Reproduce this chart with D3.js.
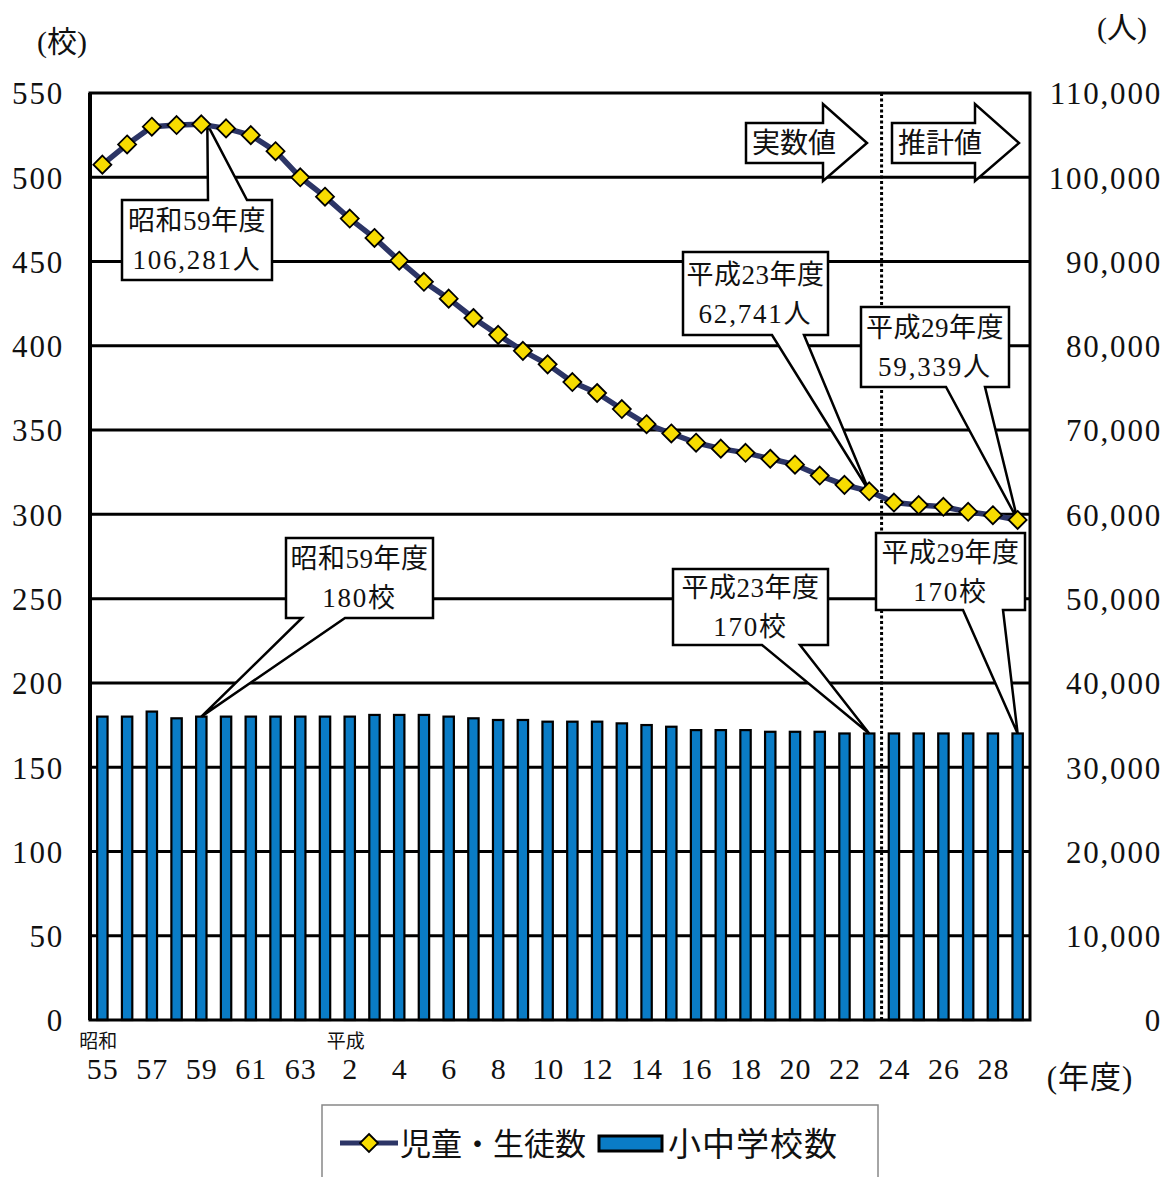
<!DOCTYPE html>
<html><head><meta charset="utf-8">
<script src="https://cdn.jsdelivr.net/npm/d3@7"></script>
<style>
html,body{margin:0;padding:0;background:#fff;}
text{font-family:"Liberation Serif","DejaVu Serif","Noto Sans CJK JP",serif;fill:#111;}
</style></head>
<body><svg id="c" width="1165" height="1177"></svg>
<script>
// ---- data ----
const years = ["昭和55","昭和56","昭和57","昭和58","昭和59","昭和60","昭和61","昭和62","昭和63",
  "平成元","平成2","平成3","平成4","平成5","平成6","平成7","平成8","平成9","平成10","平成11","平成12",
  "平成13","平成14","平成15","平成16","平成17","平成18","平成19","平成20","平成21","平成22","平成23",
  "平成24","平成25","平成26","平成27","平成28","平成29"];
const students = [101500,103900,106000,106200,106281,105800,105000,103100,100000,
  97700,95100,92800,90100,87600,85600,83300,81300,79400,77800,75700,74400,
  72500,70700,69600,68500,67800,67300,66600,65900,64600,63500,62741,
  61400,61100,60900,60300,59900,59339];
const schools = [180,180,183,179,180,180,180,180,180,
  180,180,181,181,181,180,179,178,178,177,177,177,
  176,175,174,172,172,172,171,171,171,170,170,
  170,170,170,170,170,170];
const xTickLabels = ["55","57","59","61","63","2","4","6","8","10","12","14","16","18","20","22","24","26","28"];
const leftTicks = [0,50,100,150,200,250,300,350,400,450,500,550];
const rightTicks = [0,10000,20000,30000,40000,50000,60000,70000,80000,90000,100000,110000];
const eraLabels = [{year:"昭和55", text:"昭和"},{year:"平成2", text:"平成"}];
const seriesNames = ["児童・生徒数","小中学校数"];
const phaseLabels = ["実数値","推計値"];
const boundaryAfter = "平成23";
const callouts = [
  {year:"昭和59", series:"students", lines:["昭和59年度","106,281人"]},
  {year:"平成23", series:"students", lines:["平成23年度","62,741人"]},
  {year:"平成29", series:"students", lines:["平成29年度","59,339人"]},
  {year:"昭和59", series:"schools", lines:["昭和59年度","180校"]},
  {year:"平成23", series:"schools", lines:["平成23年度","170校"]},
  {year:"平成29", series:"schools", lines:["平成29年度","170校"]}
];

// ---- layout ----
const L=90, R=1030, T=93, B=1020;
const svg = d3.select("#c");
const x = d3.scalePoint().domain(years).range([L,R]).padding(0.5);
const yL = d3.scaleLinear().domain([0,550]).range([B,T]);
const yR = d3.scaleLinear().domain([0,110000]).range([B,T]);
const barW = x.step()*0.42;
const BLUE="#0a7cc6", NAVY="#2c3566", YEL="#f7dc00";

// gridlines
svg.append("g").selectAll("line").data(leftTicks.filter(d=>d>0&&d<550)).join("line")
  .attr("x1",L).attr("x2",R).attr("y1",d=>yL(d)).attr("y2",d=>yL(d))
  .attr("stroke","#000").attr("stroke-width",3);

// bars
svg.append("g").selectAll("rect").data(years).join("rect")
  .attr("x",d=>x(d)-barW/2).attr("width",barW)
  .attr("y",(d,i)=>yL(schools[i])).attr("height",(d,i)=>B-yL(schools[i]))
  .attr("fill",BLUE).attr("stroke","#000").attr("stroke-width",2.2);

// frame
svg.append("rect").attr("x",L).attr("y",T).attr("width",R-L).attr("height",B-T)
  .attr("fill","none").attr("stroke","#000").attr("stroke-width",3);
svg.append("line").attr("x1",L).attr("x2",L).attr("y1",T).attr("y2",B).attr("stroke","#000").attr("stroke-width",4);

// boundary dotted line
const ib = years.indexOf(boundaryAfter);
const bx = (x(years[ib])+x(years[ib+1]))/2;
svg.append("line").attr("x1",bx).attr("x2",bx).attr("y1",T).attr("y2",B)
  .attr("stroke","#000").attr("stroke-width",3).attr("stroke-dasharray","3,2.5");

// axes
const axL = svg.append("g").attr("transform",`translate(${L},0)`)
  .call(d3.axisLeft(yL).tickValues(leftTicks).tickSize(0).tickPadding(26));
const axR = svg.append("g").attr("transform",`translate(${R},0)`)
  .call(d3.axisRight(yR).tickValues(rightTicks).tickSize(0).tickFormat(d3.format(",")));
axR.selectAll("text").attr("text-anchor","end").attr("x",132);
const tickYears = years.filter((d,i)=>i%2===0);
const axB = svg.append("g").attr("transform",`translate(0,${B})`)
  .call(d3.axisBottom(x).tickValues(tickYears).tickSize(0).tickPadding(38)
    .tickFormat((d)=>xTickLabels[tickYears.indexOf(d)]));
[axL,axR,axB].forEach(a=>{a.select(".domain").remove();
  a.selectAll("text").attr("font-size",axB===a?30:31).style("font-family","'Liberation Serif',serif")
   .attr("fill","#111").style("letter-spacing","1.8px");});
axB.selectAll("text").style("letter-spacing","1px");
axL.selectAll("text").attr("dy","0.35em");
axR.selectAll("text").attr("dy","0.35em");

svg.append("g").selectAll("text").data(eraLabels).join("text")
  .attr("x",d=>x(d.year)-4).attr("y",1048).attr("text-anchor","middle")
  .attr("font-size",19).text(d=>d.text);

// unit labels
svg.append("text").attr("x",62).attr("y",52).attr("text-anchor","middle").attr("font-size",30).text("(校)");
svg.append("text").attr("x",1122).attr("y",38).attr("text-anchor","middle").attr("font-size",30).text("(人)");
svg.append("text").attr("x",1090).attr("y",1088).attr("text-anchor","middle").attr("font-size",31).style("letter-spacing","1px").text("(年度)");

// callouts (box positions are layout)
const boxes = [
  {x0:122,y0:200,x1:272,y1:280,w1:208,w2:247,side:"top"},
  {x0:683,y0:252,x1:828,y1:335,w1:772,w2:804,side:"bottom"},
  {x0:861,y0:307,x1:1009,y1:387,w1:946,w2:985,side:"bottom"},
  {x0:286,y0:538,x1:433,y1:618,w1:302,w2:345,side:"bottom"},
  {x0:673,y0:569,x1:828,y1:645,w1:762,w2:800,side:"bottom"},
  {x0:876,y0:533,x1:1025,y1:610,w1:963,w2:1003,side:"bottom"}
];
function calloutPath(b,ax,ay){
  if(b.side==="top")
    return `M${b.x0},${b.y0}H${b.w1}L${ax},${ay}L${b.w2},${b.y0}H${b.x1}V${b.y1}H${b.x0}Z`;
  return `M${b.x0},${b.y0}H${b.x1}V${b.y1}H${b.w2}L${ax},${ay}L${b.w1},${b.y1}H${b.x0}Z`;
}
const cg = svg.append("g");
callouts.forEach((c,k)=>{
  const b = boxes[k];
  const i = years.indexOf(c.year);
  let ax = x(c.year), ay;
  if(c.series==="students"){ ay = yR(students[i]); if(k===0) ax = ax+6; }
  else { ay = yL(schools[i]); }
  cg.append("path").attr("d",calloutPath(b,ax,ay)).attr("fill","#fff")
    .attr("stroke","#000").attr("stroke-width",2.5).attr("stroke-linejoin","miter");
  const cx=(b.x0+b.x1)/2, cy=(b.y0+b.y1)/2;
  c.lines.forEach((t,j)=>{
    cg.append("text").attr("x",cx).attr("y",cy+(j===0?-10:29)).attr("text-anchor","middle")
      .attr("font-size",27).style("letter-spacing", j===1?"1.8px":"0.5px").text(t);
  });
});

// line + markers
svg.append("path").datum(students)
  .attr("d",d3.line().x((d,i)=>x(years[i])).y(d=>yR(d)))
  .attr("fill","none").attr("stroke",NAVY).attr("stroke-width",5.5).attr("stroke-linejoin","round");
const dm = 9;
svg.append("g").selectAll("path").data(students).join("path")
  .attr("d",(d,i)=>{const cx=x(years[i]), cy=yR(d);
    return `M${cx},${cy-dm}L${cx+dm},${cy}L${cx},${cy+dm}L${cx-dm},${cy}Z`;})
  .attr("fill",YEL).attr("stroke","#000").attr("stroke-width",1.8);

// phase arrows
const arrows=[{bx0:746,by0:123,bx1:823,by1:163,hy0:104,hy1:181,tip:867},
              {bx0:892,by0:123,bx1:975,by1:163,hy0:104,hy1:181,tip:1019}];
arrows.forEach((a,k)=>{
  const my=(a.by0+a.by1)/2;
  svg.append("path").attr("d",`M${a.bx0},${a.by0}H${a.bx1}V${a.hy0}L${a.tip},${my}L${a.bx1},${a.hy1}V${a.by1}H${a.bx0}Z`)
    .attr("fill","#fff").attr("stroke","#000").attr("stroke-width",2.5);
  svg.append("text").attr("x",a.bx0+6).attr("y",my+10).attr("font-size",28).text(phaseLabels[k]);
});

// legend
const lg = svg.append("g");
lg.append("rect").attr("x",322).attr("y",1105).attr("width",556).attr("height",90)
  .attr("fill","#fff").attr("stroke","#888").attr("stroke-width",1.5);
lg.append("line").attr("x1",340).attr("x2",398).attr("y1",1143).attr("y2",1143).attr("stroke",NAVY).attr("stroke-width",5);
lg.append("path").attr("d",`M369,${1143-9}L378,1143L369,${1143+9}L360,1143Z`).attr("fill",YEL).attr("stroke","#000").attr("stroke-width",1.8);
lg.append("text").attr("x",400).attr("y",1155).attr("font-size",31).text(seriesNames[0]);
lg.append("rect").attr("x",599).attr("y",1136).attr("width",63).attr("height",15).attr("fill",BLUE).attr("stroke","#000").attr("stroke-width",3);
lg.append("text").attr("x",668).attr("y",1156).attr("font-size",33).style("letter-spacing","1px").text(seriesNames[1]);
</script></body></html>
